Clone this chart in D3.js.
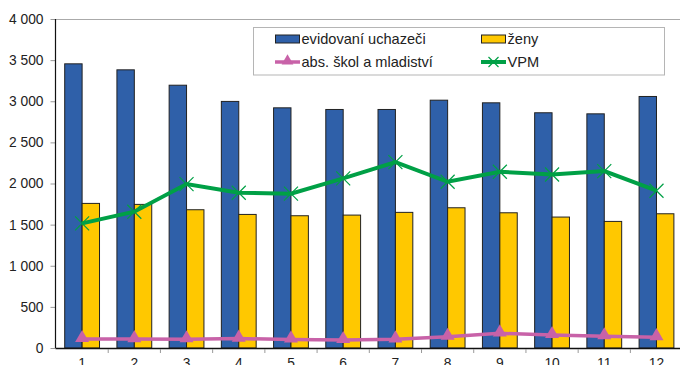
<!DOCTYPE html>
<html><head><meta charset="utf-8">
<script src="https://cdn.jsdelivr.net/npm/d3@7"></script>
<style>body{margin:0;background:#fff}svg{display:block}text{font-family:"Liberation Sans",Arial,sans-serif;fill:#222}</style>
</head><body><svg id="c" width="680" height="365"></svg>
<script>
const categories = ["1","2","3","4","5","6","7","8","9","10","11","12"];
const evidovani = [3455,3382,3195,2998,2920,2900,2900,3013,2981,2860,2847,3058];
const zeny = [1758,1746,1681,1624,1608,1616,1649,1705,1644,1592,1539,1632];
const absolventi = [109,108,106,114,104,97,105,137,178,158,142,132];
const vpm = [1515,1657,1993,1887,1876,2062,2260,2021,2143,2110,2151,1912];
const yTicks = [0,500,1000,1500,2000,2500,3000,3500,4000];
const seriesNames = ["evidovaní uchazeči","ženy","abs. škol a mladiství","VPM"];

const svg = d3.select("#c");
const L = 55.5, R = 682.6, T = 19, B = 348;
const x = d3.scaleBand().domain(categories).range([56, R]).paddingInner(0).paddingOuter(0);
const xi = d3.scaleBand().domain([0,1]).range([0, x.bandwidth()]).paddingInner(0).paddingOuter(0.5);
const y = d3.scaleLinear().domain([0,4000]).range([B, T]);
const loc = d3.formatLocale({decimal:",", thousands:"\u00a0", grouping:[3], currency:["",""]});
const fmt = loc.format(",d");

// top border
svg.append("line").attr("x1",L).attr("x2",680).attr("y1",T+0.5).attr("y2",T+0.5).attr("stroke","#aaa").attr("stroke-width",1);

// y axis
const ya = svg.append("g").attr("transform",`translate(${L},0)`)
  .call(d3.axisLeft(y).tickValues(yTicks).tickFormat(fmt).tickSize(5).tickPadding(7));
ya.select(".domain").remove();
ya.selectAll(".tick line").attr("stroke","#999");
ya.selectAll(".tick text").attr("font-size","13.8px").attr("fill","#222").style("font-family","'Liberation Sans',Arial,sans-serif");

// bars
const groups = svg.append("g").selectAll("g").data(categories).join("g")
  .attr("transform", d => `translate(${x(d)},0)`);
groups.append("rect").attr("x", xi(0)).attr("width", xi.bandwidth())
  .attr("y", (d,i) => y(evidovani[i])).attr("height", (d,i) => B - y(evidovani[i]))
  .attr("fill","#2F60A9").attr("stroke","#222").attr("stroke-width",1);
groups.append("rect").attr("x", xi(1)).attr("width", xi.bandwidth())
  .attr("y", (d,i) => y(zeny[i])).attr("height", (d,i) => B - y(zeny[i]))
  .attr("fill","#FFC800").attr("stroke","#222").attr("stroke-width",1);

// axes lines
svg.append("line").attr("x1",L).attr("x2",L).attr("y1",T).attr("y2",B).attr("stroke","#111").attr("stroke-width",1.2);
const xa = svg.append("g").attr("transform",`translate(0,${B})`);
xa.append("line").attr("x1",L).attr("x2",680).attr("y1",0.5).attr("y2",0.5).attr("stroke","#111").attr("stroke-width",1.3);
xa.selectAll("line.t").data(categories.slice(1)).join("line").attr("class","t")
  .attr("x1", d => x(d)).attr("x2", d => x(d)).attr("y1",1).attr("y2",5).attr("stroke","#999");
xa.selectAll("text").data(categories).join("text")
  .attr("x", d => x(d) + x.bandwidth()/2).attr("y", 19.5).attr("text-anchor","middle")
  .attr("font-size","13.8px").text(d => d);

const cx = d => x(d) + x.bandwidth()/2;
const line = d3.line().x(d => cx(d[0])).y(d => y(d[1]));

// pink line
const pdata = categories.map((c,i) => [c, absolventi[i]]);
svg.append("path").datum(pdata).attr("d", line).attr("fill","none").attr("stroke","#C862A8").attr("stroke-width",3.5);
const tri = d3.symbol().type(d3.symbolTriangle).size(85);
svg.append("g").selectAll("path").data(pdata).join("path")
  .attr("transform", d => `translate(${cx(d[0])},${y(d[1])-1})`).attr("d", tri()).attr("fill","#C862A8");

// green line
const gdata = categories.map((c,i) => [c, vpm[i]]);
svg.append("path").datum(gdata).attr("d", line).attr("fill","none").attr("stroke","#00A046").attr("stroke-width",4);
svg.append("g").selectAll("path").data(gdata).join("path")
  .attr("transform", d => `translate(${cx(d[0])},${y(d[1])})`)
  .attr("d","M-7,-7L7,7M-7,7L7,-7").attr("stroke","#00A046").attr("stroke-width",1.2).attr("fill","none");

// legend
const lg = svg.append("g");
lg.append("rect").attr("x",253.5).attr("y",27.5).attr("width",411).attr("height",47.5).attr("fill","#fff").attr("stroke","#b5b5b5");
const items = [
  {n:seriesNames[0], x:275, y:39, t:"bar", c:"#2F60A9"},
  {n:seriesNames[1], x:481, y:39, t:"bar", c:"#FFC800"},
  {n:seriesNames[2], x:275, y:62, t:"tri", c:"#C862A8"},
  {n:seriesNames[3], x:481, y:62, t:"x", c:"#00A046"}
];
items.forEach(it => {
  const g = lg.append("g").attr("transform",`translate(${it.x},${it.y})`);
  if (it.t === "bar") {
    g.append("rect").attr("x",0.5).attr("y",-4).attr("width",24).attr("height",8).attr("fill",it.c).attr("stroke","#222");
  } else if (it.t === "tri") {
    g.append("line").attr("x1",0).attr("x2",25).attr("stroke",it.c).attr("stroke-width",3.5);
    g.append("path").attr("transform","translate(12.5,-1)").attr("d", d3.symbol().type(d3.symbolTriangle).size(60)()).attr("fill",it.c);
  } else {
    g.append("line").attr("x1",0).attr("x2",25).attr("stroke",it.c).attr("stroke-width",4);
    g.append("path").attr("transform","translate(12.5,0)").attr("d","M-5,-5L5,5M-5,5L5,-5").attr("stroke",it.c).attr("stroke-width",1.2);
  }
  g.append("text").attr("x",26.5).attr("y",5.2).attr("font-size","14.6px").text(it.n);
});
</script></body></html>
